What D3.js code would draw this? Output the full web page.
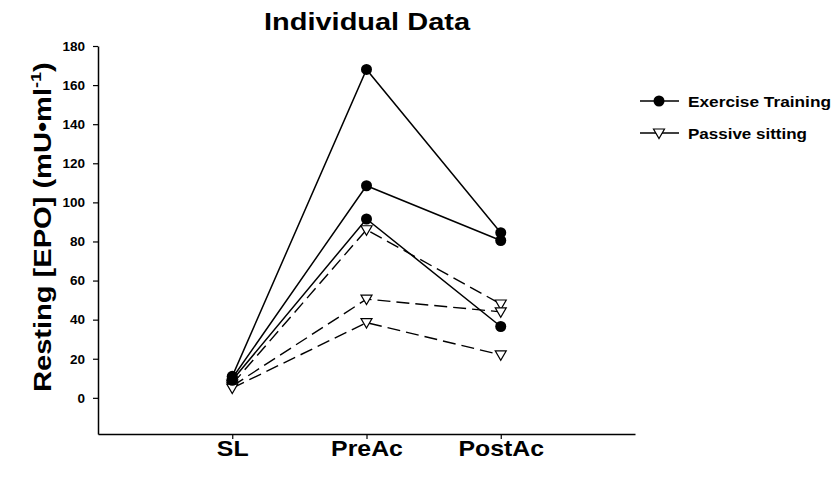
<!DOCTYPE html>
<html><head><meta charset="utf-8">
<script src="https://cdn.jsdelivr.net/npm/d3@7"></script>
<style>
body{margin:0;background:#fff;}
svg{display:block;font-family:Arial,"Liberation Sans",sans-serif;}
</style></head>
<body><svg id="c" width="835" height="489"></svg>
<script>
const categories = ["SL", "PreAc", "PostAc"];
const yTicks = [0, 20, 40, 60, 80, 100, 120, 140, 160, 180];
const exercise1 = [11, 168, 84.5];
const exercise2 = [10, 108.5, 80.5];
const exercise3 = [9, 91.5, 36.5];
const passive1 = [7, 86, 48];
const passive2 = [6, 50.5, 44];
const passive3 = [5, 38.5, 22];
const exerciseSeries = [exercise1, exercise2, exercise3];
const passiveSeries = [passive1, passive2, passive3];
const legendLabels = ["Exercise Training", "Passive sitting"];

const svg = d3.select("#c");
const x = d3.scalePoint().domain(categories).range([98, 635]).padding(1);
const y = d3.scaleLinear().domain([-18.5, 180]).range([434, 46]);

// axes
const ya = svg.append("g").attr("transform", "translate(98,0)")
  .call(d3.axisLeft(y).tickValues(yTicks).tickSize(5).tickSizeOuter(0));
ya.select(".domain").attr("stroke", "#000").attr("stroke-width", 1.5);
ya.selectAll(".tick line").attr("stroke", "#000").attr("stroke-width", 1.2);
ya.selectAll(".tick text").attr("font-size", 13.5).attr("font-weight", "bold")
  .attr("font-family", "Arial, 'Liberation Sans', sans-serif").attr("fill", "#000").attr("x", -13);

const xa = svg.append("g").attr("transform", "translate(0,434)")
  .call(d3.axisBottom(x).tickSize(5).tickSizeOuter(0));
xa.select(".domain").attr("stroke", "#000").attr("stroke-width", 1.5);
xa.selectAll(".tick line").attr("stroke", "#000").attr("stroke-width", 1.2);
xa.selectAll(".tick text").attr("font-size", 22).attr("font-weight", "bold")
  .attr("font-family", "Arial, 'Liberation Sans', sans-serif").attr("fill", "#000")
  .attr("dy", 0).attr("y", 0)
  .attr("transform", "translate(0,22) scale(1.13,1)");

const line = d3.line().x((d, i) => x(categories[i])).y(d => y(d));

// passive (dashed)
passiveSeries.forEach(s => {
  svg.append("path").attr("d", line(s)).attr("fill", "none").attr("stroke", "#000")
    .attr("stroke-width", 1.4).attr("stroke-dasharray", "13,6");
});
// exercise (solid)
exerciseSeries.forEach(s => {
  svg.append("path").attr("d", line(s)).attr("fill", "none").attr("stroke", "#000")
    .attr("stroke-width", 1.5);
});

const tri = "M-5.5,-4 L5.5,-4 L0,5.5 Z";
passiveSeries.forEach(s => {
  svg.append("g").selectAll("path").data(s).join("path")
    .attr("d", tri)
    .attr("transform", (d, i) => `translate(${x(categories[i])},${y(d)})`)
    .attr("fill", "#fff").attr("stroke", "#000").attr("stroke-width", 1.2);
});
exerciseSeries.forEach(s => {
  svg.append("g").selectAll("circle").data(s).join("circle")
    .attr("cx", (d, i) => x(categories[i])).attr("cy", d => y(d)).attr("r", 5.5)
    .attr("fill", "#000");
});

// title
svg.append("text").attr("x", 367).attr("y", 30).attr("text-anchor", "middle")
  .attr("font-size", 24).attr("font-weight", "bold")
  .attr("textLength", 206).attr("lengthAdjust", "spacingAndGlyphs").text("Individual Data");

// y label
const ylg = svg.append("g").attr("transform", "translate(51,227) rotate(-90)");
const yl = ylg.append("text").attr("font-size", 24).attr("font-weight", "bold");
yl.append("tspan").text("Resting [EPO] (mU\u2022ml");
yl.append("tspan").attr("font-size", 15).attr("dy", -10).text("-1");
yl.append("tspan").attr("dy", 10).text(")");
const bb = yl.node().getBBox();
const sx = 330 / bb.width;
yl.attr("transform", `scale(${sx},1) translate(${-bb.x - bb.width / 2},0)`);

// legend
const lg = svg.append("g");
const legendWidths = [143, 119];
[0, 1].forEach(i => {
  const ly = 101 + i * 32;
  lg.append("line").attr("x1", 640).attr("x2", 679).attr("y1", ly).attr("y2", ly)
    .attr("stroke", "#000").attr("stroke-width", 1.5);
  if (i === 0) lg.append("circle").attr("cx", 659).attr("cy", ly).attr("r", 5.5).attr("fill", "#000");
  else lg.append("path").attr("d", tri).attr("transform", `translate(659,${ly})`)
    .attr("fill", "#fff").attr("stroke", "#000").attr("stroke-width", 1.2);
  lg.append("text").attr("x", 688).attr("y", ly + 5.5).attr("font-size", 15.5)
    .attr("font-weight", "bold").attr("textLength", legendWidths[i])
    .attr("lengthAdjust", "spacingAndGlyphs").text(legendLabels[i]);
});
</script></body></html>
